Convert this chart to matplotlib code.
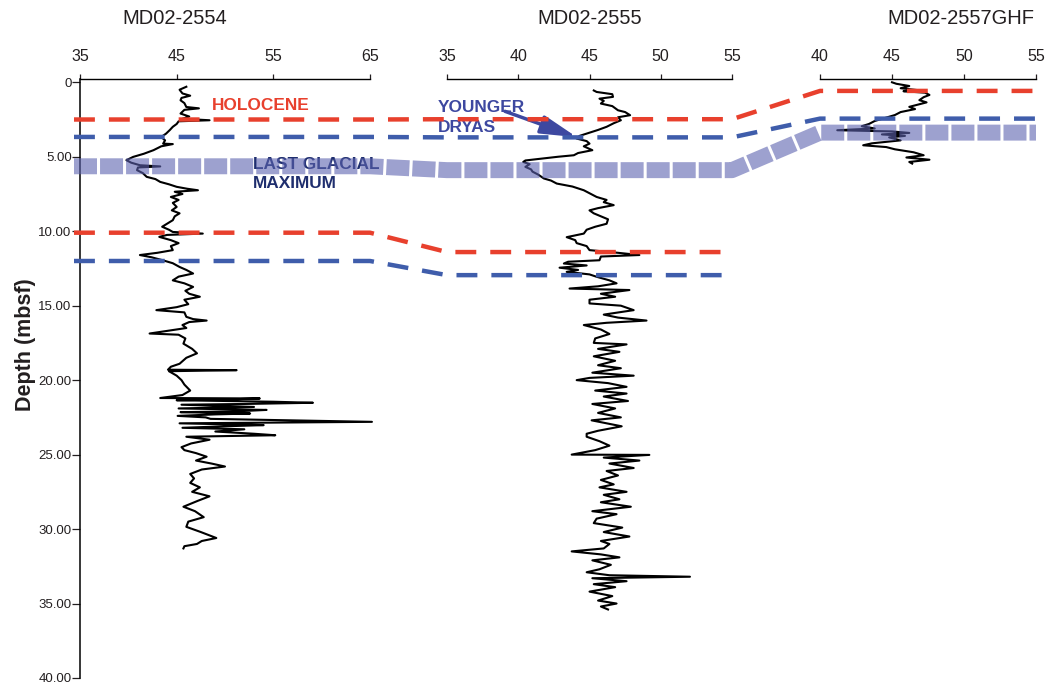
import matplotlib
matplotlib.use("Agg")
import matplotlib.pyplot as plt
from matplotlib.lines import Line2D

plt.rcParams['font.family'] = ['Liberation Sans', 'DejaVu Sans']

# core names and their top x-axes
cores = ["MD02-2554", "MD02-2555", "MD02-2557GHF"]
x_ranges = [(35, 65), (35, 55), (40, 55)]
x_ticks = [[35, 45, 55, 65], [35, 40, 45, 50, 55], [40, 45, 50, 55]]

depth_ticks = [0, 5, 10, 15, 20, 25, 30, 35, 40]
depth_labels = ["0", "5.00", "10.00", "15.00", "20.00", "25.00", "30.00", "35.00", "40.00"]

# horizon depths (mbsf) in each core
holocene = [2.5, 2.48, 0.58]
younger_dryas = [3.67, 3.7, 2.44]
lgm = [5.64, 5.9, 3.38]
lower_red = [10.1, 11.4]
lower_blue = [12.0, 12.95]

# MD02-2554 record
depth_2554 = [0.3, 0.5, 0.75, 0.9, 1.05, 1.21, 1.4, 1.66, 1.75, 1.85, 2.1, 2.3, 2.45, 2.55,
              2.62, 2.8, 2.99, 3.2, 3.45, 3.67, 3.9, 4.12, 4.15, 4.3, 4.56, 4.8, 5.01, 5.23,
              5.4, 5.57, 5.65, 5.72, 5.9, 6.1, 6.35, 6.5, 6.69, 6.85, 7.02, 7.15, 7.25, 7.35,
              7.5, 7.7, 7.9, 8.1, 8.37, 8.6, 8.8, 9.0, 9.26, 9.5, 9.7, 9.9, 10.05, 10.16,
              10.25, 10.38, 10.6, 10.8, 11.0, 11.27, 11.45, 11.6, 11.75, 11.94, 12.15, 12.4,
              12.6, 12.84, 13.05, 13.3, 13.5, 13.74, 14.0, 14.2, 14.4, 14.6, 14.9, 15.1, 15.3,
              15.45, 15.75, 15.9, 16.0, 16.1, 16.3, 16.5, 16.87, 16.95, 17.2, 17.55, 17.9,
              18.2, 18.5, 18.9, 19.1, 19.3, 19.33, 19.4, 19.7, 20.0, 20.3, 20.7, 21.0, 21.2,
              21.23, 21.3, 21.35, 21.45, 21.52, 21.6, 21.65, 21.8, 21.9, 22.0, 22.1, 22.15,
              22.24, 22.3, 22.4, 22.5, 22.6, 22.8, 22.9, 23.02, 23.1, 23.2, 23.3, 23.45, 23.6,
              23.7, 23.8, 24.0, 24.25, 24.5, 24.7, 24.9, 25.14, 25.4, 25.6, 25.8, 26.0, 26.3,
              26.6, 26.9, 27.2, 27.5, 27.8, 28.1, 28.5, 28.8, 29.2, 29.5, 29.85, 30.2, 30.6,
              30.8, 31.0, 31.15, 31.3]
value_2554 = [46.0, 45.3, 45.6, 46.4, 45.5, 45.4, 45.8, 46.0, 47.3, 45.8, 45.4, 46.3, 45.6, 48.4,
              45.2, 45.0, 44.6, 44.3, 43.9, 43.4, 43.8, 43.6, 44.6, 43.4, 42.6, 41.6, 40.5, 39.8,
              40.3, 41.2, 43.3, 41.0, 40.9, 41.5, 41.9, 42.8, 43.3, 44.2, 45.0, 46.1, 47.2, 44.8,
              45.6, 44.4, 45.2, 44.6, 45.0, 44.5, 45.3, 44.8, 44.6, 44.0, 43.5, 44.2, 44.6, 47.7,
              44.0, 43.2, 44.4, 45.2, 44.4, 44.6, 43.0, 41.2, 42.4, 43.5, 44.6, 45.3,
              46.0, 46.7, 45.2, 44.6, 45.8, 46.7, 45.9, 46.3, 47.4, 45.8, 46.2, 45.0, 42.9,
              45.8, 46.0, 46.7, 48.1, 46.3, 45.6, 46.0, 42.2, 45.2, 45.9, 45.7, 46.6,
              47.1, 46.0, 45.3, 44.4, 44.1, 51.2, 44.2, 45.0, 45.5, 45.8, 46.4, 45.6, 43.3,
              53.6, 50.0, 45.0, 55.0, 59.1, 52.0, 45.5, 53.0, 45.2, 54.3, 51.0, 45.4,
              52.6, 49.0, 45.1, 48.0, 48.5, 65.2, 45.3, 54.0, 50.0, 45.6, 52.0, 49.0, 53.0,
              55.2, 46.0, 48.4, 46.5, 45.5, 45.8, 47.0, 48.1, 47.0, 48.6, 50.0, 47.6, 46.4,
              46.8, 46.4, 47.4, 46.6, 48.4, 47.2, 45.7, 46.9, 47.8, 46.2, 46.0, 47.5, 49.1,
              47.6, 47.1, 45.8, 45.7]

# MD02-2555 record
depth_2555 = [0.55, 0.65, 0.8, 0.98, 1.1, 1.25, 1.43, 1.6, 1.88, 2.0, 2.21, 2.35, 2.55, 2.75,
              2.99, 3.2, 3.45, 3.6, 3.78, 3.95, 4.12, 4.3, 4.56, 4.75, 4.9, 5.0, 5.12, 5.25,
              5.35, 5.5, 5.68, 5.85, 6.0, 6.2, 6.46, 6.6, 6.8, 7.0, 7.25, 7.45, 7.7, 7.9, 8.05,
              8.25, 8.45, 8.6, 8.8, 9.0, 9.2, 9.5, 9.7, 9.9, 10.16, 10.4, 10.6, 10.8, 11.0,
              11.27, 11.45, 11.6, 11.7, 11.95, 12.05, 12.17, 12.3, 12.45, 12.6, 12.73, 12.9,
              13.06, 13.3, 13.5, 13.7, 13.85, 13.95, 14.2, 14.4, 14.6, 14.85, 15.0, 15.3, 15.6,
              15.8, 16.0, 16.15, 16.3, 16.6, 16.9, 17.2, 17.5, 17.6, 17.9, 18.1, 18.4, 18.7,
              19.0, 19.2, 19.5, 19.7, 19.85, 20.0, 20.2, 20.45, 20.7, 20.9, 21.1, 21.4, 21.6,
              21.9, 22.2, 22.5, 22.7, 22.9, 23.1, 23.4, 23.6, 23.8, 24.1, 24.4, 24.7, 25.0,
              25.02, 25.2, 25.4, 25.6, 25.9, 26.1, 26.4, 26.7, 27.0, 27.2, 27.5, 27.7, 28.0,
              28.2, 28.5, 28.8, 29.0, 29.3, 29.6, 29.9, 30.2, 30.5, 30.8, 31.0, 31.3, 31.5,
              31.7, 31.9, 32.1, 32.4, 32.7, 32.9, 33.1, 33.2, 33.3, 33.5, 33.7, 33.9, 34.2,
              34.5, 34.8, 35.0, 35.2, 35.4]
value_2555 = [45.3, 45.5, 46.6, 46.65, 45.7, 46.0, 45.8, 46.6, 47.0, 47.5, 47.85, 47.0, 47.2, 46.7,
              46.2, 45.6, 44.8, 44.3, 44.1, 44.8, 45.0, 44.6, 45.2, 44.2, 43.9, 42.8, 41.7, 40.5,
              40.35, 40.8, 40.5, 40.9, 41.0, 41.4, 41.8, 42.3, 42.7, 43.8, 44.6, 45.0, 45.5, 46.2, 46.0,
              46.7, 45.6, 45.0, 45.3, 45.8, 46.3, 46.2, 45.4, 44.8, 44.6, 43.4, 44.0, 44.1, 44.8,
              45.0, 47.0, 48.5, 45.8, 45.7, 43.5, 43.2, 44.8, 42.9, 44.2, 43.4, 45.0,
              45.5, 46.4, 46.9, 45.6, 43.6, 47.8, 45.8, 46.8, 45.0, 45.0, 47.2, 48.1, 46.0,
              47.0, 49.0, 46.2, 44.6, 45.8, 46.4, 45.4, 45.3, 47.6, 45.6, 47.1, 45.3, 46.8,
              45.6, 47.2, 45.2, 48.1, 45.0, 44.1, 46.3, 47.6, 45.4, 47.6, 46.0, 47.7, 45.2,
              46.8, 45.6, 47.2, 45.15, 46.2, 47.26, 45.6, 44.8, 44.8, 45.7, 46.4, 45.4, 43.75,
              49.2, 46.0, 48.5, 46.4, 48.1, 46.2, 47.0, 45.8, 46.7, 45.7, 47.6, 46.0, 47.1,
              45.8, 47.9, 45.2, 46.9, 45.5, 45.3, 47.3, 46.0, 47.8, 45.8, 46.4, 46.0, 43.75,
              45.8, 47.1, 45.2, 46.5, 45.7, 44.8, 46.4, 52.05, 45.2, 47.6, 45.3, 46.8, 45.0,
              46.6, 45.6, 46.9, 45.8, 46.3]

# MD02-2557GHF record
depth_2557 = [0.0, 0.1, 0.25, 0.4, 0.55, 0.6, 0.7, 0.85, 1.0, 1.2, 1.35, 1.5, 1.65, 1.8, 2.0,
              2.2, 2.4, 2.6, 2.8, 2.95, 3.1, 3.22, 3.3, 3.4, 3.5, 3.6, 3.7, 3.9, 4.1, 4.23,
              4.35, 4.5, 4.7, 4.9, 5.05, 5.2, 5.35, 5.46]
value_2557 = [45.0, 45.3, 46.2, 45.6, 47.0, 45.8, 47.3, 47.6, 47.2, 46.9, 47.4, 46.8, 46.2, 46.6, 45.6,
              45.2, 44.5, 43.8, 43.4, 42.9, 43.8, 41.2, 45.0, 46.2, 44.3, 45.9, 44.8, 45.6, 43.6, 43.0,
              44.6, 45.2, 46.5, 47.2, 46.0, 47.6, 46.2, 46.4]

depths = [depth_2554, depth_2555, depth_2557]
values = [value_2554, value_2555, value_2557]

RED = '#e8402d'
BLUE = '#3f5dab'
TEXT = '#231f20'

W, H = 1053, 688
fig = plt.figure(figsize=(W / 100, H / 100), dpi=100)

lefts = [80, 447, 820]
rights = [370, 732, 1036]
top_px, bottom_px = 79, 678

axes = []
for i in range(3):
    ax = fig.add_axes([lefts[i] / W, 1 - bottom_px / H,
                       (rights[i] - lefts[i]) / W, (bottom_px - top_px) / H])
    ax.set_xlim(*x_ranges[i])
    ax.set_ylim(40, -0.22)
    ax.patch.set_visible(False)
    ax.xaxis.tick_top()
    ax.set_xticks(x_ticks[i])
    ax.tick_params(axis='x', direction='out', length=3.5, width=0.9, pad=7,
                   labelsize=11.5, colors=TEXT)
    ax.spines['bottom'].set_visible(False)
    ax.spines['right'].set_visible(False)
    ax.spines['top'].set_linewidth(1.0)
    if i == 0:
        ax.set_yticks(depth_ticks)
        ax.set_yticklabels(depth_labels)
        ax.tick_params(axis='y', direction='out', length=6, width=0.9, pad=0,
                       labelsize=9.5, colors=TEXT)
        ax.spines['left'].set_linewidth(1.1)
        ax.set_ylabel('Depth (mbsf)', fontsize=15.5, fontweight='bold', color=TEXT)
        ax.yaxis.set_label_coords(-0.152, 0.556)
    else:
        ax.spines['left'].set_visible(False)
        ax.set_yticks([])
    ax.plot(values[i], depths[i], color='black', lw=1.5, clip_on=False, zorder=3)
    axes.append(ax)

for i, name in enumerate(cores):
    cx = [175, 590, 961][i]
    fig.text(cx / W, 1 - 19 / H, name, ha='center', va='center', fontsize=14.5, color=TEXT)


def horizon(depth_list):
    pts = []
    inv = fig.transFigure.inverted()
    for i, d in enumerate(depth_list):
        for x in x_ranges[i]:
            pts.append(inv.transform(axes[i].transData.transform((x, d))))
    xs = [p[0] for p in pts]
    ys = [p[1] for p in pts]
    # start the first dash a little left of the depth axis, as in the figure
    xs[0] -= 6 / W
    return xs, ys


# thick LGM band (semi-transparent, over the curves)
xs, ys = horizon(lgm)
band = Line2D(xs, ys, transform=fig.transFigure, color='#5c62af', alpha=0.6, lw=11.5,
              dashes=(1.44, 0.19), solid_joinstyle='miter', dash_capstyle='butt', zorder=4)
fig.add_artist(band)

for dl, col in [(holocene, RED), (younger_dryas, BLUE), (lower_red, RED), (lower_blue, BLUE)]:
    xs, ys = horizon(dl)
    fig.add_artist(Line2D(xs, ys, transform=fig.transFigure, color=col, lw=3.2,
                          dashes=(4.7, 3.15), dash_capstyle='butt', zorder=5))

# labels
axes[0].text(48.65, 1.54, 'HOLOCENE', color=RED, fontsize=12.4, fontweight='bold',
             ha='left', va='center', zorder=6)
axes[0].text(52.9, 6.17, 'LAST GLACIAL\nMAXIMUM', color='#1f2e6e', fontsize=12.4,
             fontweight='bold', ha='left', va='center', linespacing=1.3, zorder=6,
             clip_on=False)
axes[1].text(34.37, 2.38, 'YOUNGER\nDRYAS', color='#3d48a0', fontsize=12.4,
             fontweight='bold', ha='left', va='center', linespacing=1.45, zorder=6,
             clip_on=False)
axes[1].annotate('', xy=(44.12, 3.69), xytext=(39.07, 1.95),
                 arrowprops=dict(arrowstyle='-|>,head_length=1.1,head_width=0.28',
                                 lw=2.5, color='#3d48a0', mutation_scale=20,
                                 shrinkA=0, shrinkB=0),
                 annotation_clip=False, zorder=6)

fig.savefig('out.png', dpi=100)
